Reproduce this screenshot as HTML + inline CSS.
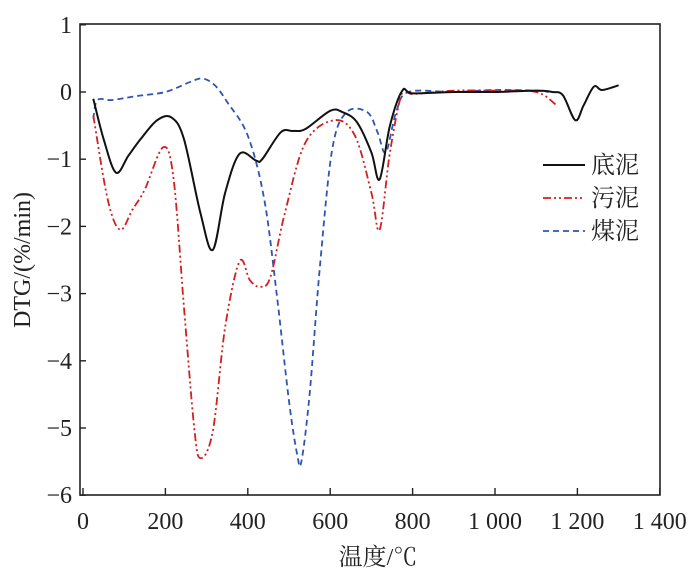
<!DOCTYPE html>
<html><head><meta charset="utf-8"><style>
body{margin:0;background:#fff}
svg{display:block;font-family:"Liberation Serif","Noto Serif CJK SC",serif}
</style></head><body>
<svg id="s" width="700" height="579" viewBox="0 0 700 579">
<rect x="80" y="24" width="580" height="471" fill="none" stroke="#222" stroke-width="1.6"/>
<g id="ticks" stroke="#222" stroke-width="1.4"></g>
<g id="lbl" font-size="24" fill="#222"></g>
<text x="378" y="565" font-size="24" text-anchor="middle" fill="#222">温度/℃</text>
<text transform="translate(30,260) rotate(-90)" font-size="24" text-anchor="middle" fill="#222">DTG/(%/min)</text>
<g id="series" fill="none"></g>
<g font-size="24" fill="#222">
<line x1="543" y1="165" x2="585" y2="165" stroke="#111" stroke-width="2"/>
<text x="591" y="173">底泥</text>
<line x1="543" y1="198" x2="585" y2="198" stroke="#d02020" stroke-width="1.8" stroke-dasharray="8,3,2,3,2,3"/>
<text x="591" y="206">污泥</text>
<line x1="543" y1="231" x2="585" y2="231" stroke="#2f55b0" stroke-width="1.8" stroke-dasharray="6,4"/>
<text x="591" y="239">煤泥</text>
</g>
</svg>
<script>
const X=t=>83+t*0.412, Y=v=>92-v*67.2;
const NS="http://www.w3.org/2000/svg";
function el(p,n,a,txt){const e=document.createElementNS(NS,n);for(const k in a)e.setAttribute(k,a[k]);if(txt!==undefined)e.textContent=txt;document.getElementById(p).appendChild(e);}
for(let i=0;i<=7;i++){const t=i*200,x=X(t);el('ticks','line',{x1:x,y1:495,x2:x,y2:488});
el('lbl','text',{x:x,y:529,'text-anchor':'middle'},t>=1000?(''+t).replace(/^1/,'1 '):''+t);}
for(let v=1;v>=-6;v--){const y=Y(v);el('ticks','line',{x1:80,y1:y,x2:86,y2:y});
el('lbl','text',{x:72,y:y+8,'text-anchor':'end'},v<0?'−'+(-v):''+v);}
function path(pts){const P=pts.map(p=>[X(p[0]),Y(p[1])]);let d='M'+P[0];
for(let i=0;i<P.length-1;i++){const p0=P[i-1]||P[i],p1=P[i],p2=P[i+1],p3=P[i+2]||p2;
const c1=[p1[0]+(p2[0]-p0[0])/6,p1[1]+(p2[1]-p0[1])/6],c2=[p2[0]-(p3[0]-p1[0])/6,p2[1]-(p3[1]-p1[1])/6];
d+=' C'+c1+' '+c2+' '+p2;}return d;}
const black=[[25,-0.1],[50,-0.7],[80,-1.2],[110,-0.95],[140,-0.7],[180,-0.42],[215,-0.38],[245,-0.7],[285,-1.8],[315,-2.35],[345,-1.5],[380,-0.92],[420,-1.02],[435,-1.0],[480,-0.6],[510,-0.58],[540,-0.55],[600,-0.28],[630,-0.3],[665,-0.45],[700,-0.9],[720,-1.3],[745,-0.5],[775,0.02],[800,-0.02],[900,0],[1000,0],[1100,0.02],[1140,0],[1165,-0.05],[1195,-0.42],[1215,-0.2],[1240,0.08],[1260,0.03],[1300,0.1]];
const red=[[25,-0.35],[60,-1.6],[90,-2.05],[120,-1.75],[150,-1.45],[195,-0.82],[220,-1.3],[245,-3.2],[270,-5.0],[285,-5.45],[315,-5.05],[345,-3.5],[380,-2.52],[405,-2.8],[430,-2.9],[455,-2.75],[490,-1.8],[540,-0.75],[610,-0.42],[660,-0.65],[700,-1.5],[720,-2.05],[745,-0.9],[775,0],[800,-0.03],[900,0.02],[1000,0.02],[1100,0],[1150,-0.2]];
const blue=[[25,-0.4],[35,-0.12],[70,-0.12],[130,-0.06],[200,0],[260,0.15],[290,0.2],[320,0.1],[350,-0.15],[400,-0.65],[440,-1.6],[470,-3.0],[500,-4.6],[520,-5.4],[530,-5.5],[550,-4.5],[575,-2.6],[605,-0.85],[640,-0.3],[690,-0.3],[715,-0.6],[735,-0.9],[760,-0.3],[790,0],[900,0],[1000,0.03],[1100,0.02],[1130,0]];
el('series','path',{d:path(blue),stroke:'#2f55b0','stroke-width':1.8,'stroke-dasharray':'6,4'});
el('series','path',{d:path(red),stroke:'#d02020','stroke-width':1.8,'stroke-dasharray':'8,3,2,3,2,3'});
el('series','path',{d:path(black),stroke:'#111','stroke-width':2});
</script>
</body></html>
